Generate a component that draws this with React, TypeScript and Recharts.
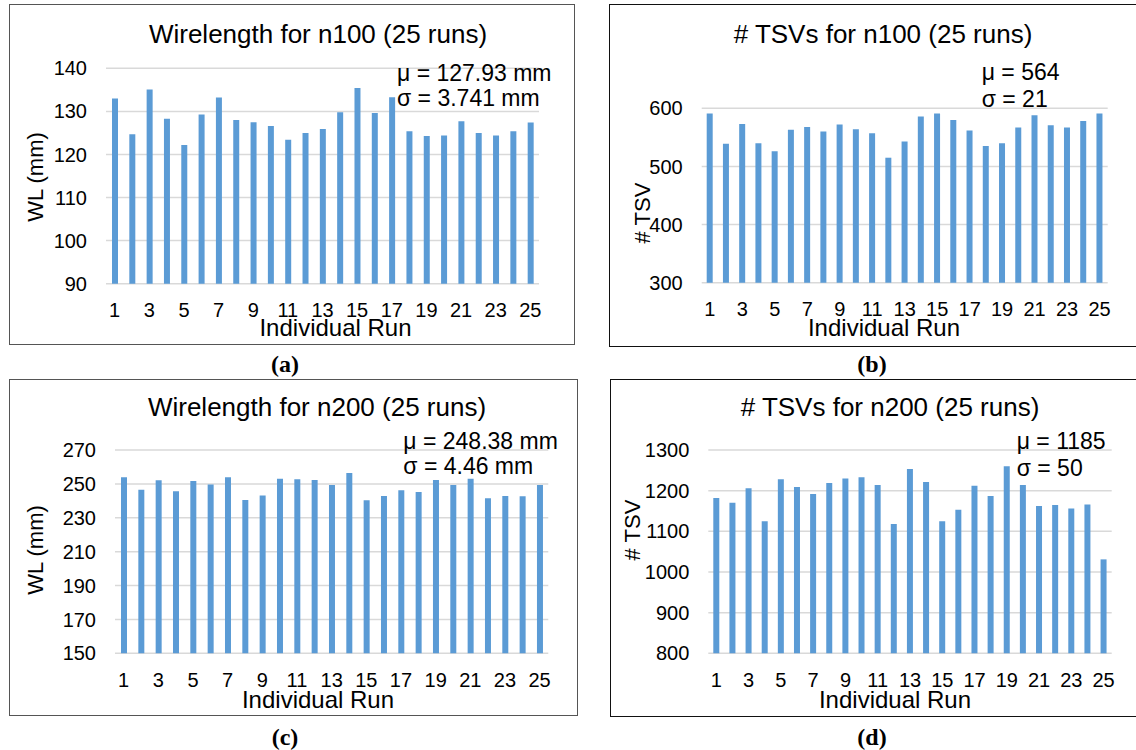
import React from "react";
import { BarChart, Bar, XAxis, YAxis, CartesianGrid } from "recharts";

const runs = ["1","2","3","4","5","6","7","8","9","10","11","12","13","14","15","16","17","18","19","20","21","22","23","24","25"];

const wlN100 = [133, 124.7, 135.1, 128.3, 122.2, 129.3, 133.2, 128.0, 127.5, 126.6, 123.4, 125.0, 125.9, 129.8, 135.4, 129.6, 133.3, 125.4, 124.3, 124.4, 127.7, 125.0, 124.4, 125.4, 127.4];
const tsvN100 = [591, 539, 573, 540, 526, 563, 568, 560, 572, 564, 557, 515, 543, 586, 591, 580, 562, 535, 540, 567, 588, 571, 567, 578, 591];
const wlN200 = [253.9, 246.6, 252.1, 245.6, 251.7, 249.7, 253.9, 240.5, 243.2, 253.1, 252.7, 252.3, 249.3, 256.4, 240.3, 242.9, 246.2, 245.2, 252.3, 249.3, 253.1, 241.5, 242.9, 242.7, 249.3];
const tsvN200 = [1182, 1170, 1206, 1125, 1228, 1209, 1192, 1219, 1230, 1233, 1214, 1118, 1253, 1221, 1125, 1153, 1212, 1187, 1260, 1214, 1162, 1165, 1156, 1166, 1031];

const ticksWlN100 = [90, 100, 110, 120, 130, 140];
const ticksTsvN100 = [300, 400, 500, 600];
const ticksWlN200 = [150, 170, 190, 210, 230, 250, 270];
const ticksTsvN200 = [800, 900, 1000, 1100, 1200, 1300];

const titles = ["Wirelength for n100 (25 runs)", "# TSVs for n100 (25 runs)", "Wirelength for n200 (25 runs)", "# TSVs for n200 (25 runs)"];
const yLabels = ["WL (mm)", "# TSV", "WL (mm)", "# TSV"];
const xLabel = "Individual Run";
const statsLines = [
  ["μ = 127.93 mm", "σ = 3.741 mm"],
  ["μ = 564", "σ = 21"],
  ["μ = 248.38 mm", "σ = 4.46 mm"],
  ["μ = 1185", "σ = 50"],
];
const captions = ["(a)", "(b)", "(c)", "(d)"];

const FONT = "'Liberation Sans', Arial, sans-serif";
const BAR = "#5B9BD5";
const GRID = "#D9D9D9";

type Box = { x: number; y: number; w: number; h: number };
type Plot = { l: number; t: number; r: number; b: number };

type PanelProps = {
  box: Box;
  plot: Plot;
  border: string;
  values: number[];
  ticks: number[];
  title: string;
  titlePos: [number, number];
  yLabel: string;
  yLabelPos: [number, number];
  xLabelPos: [number, number];
  stats: string[];
  statsPos: [number, number, number];
  caption: string;
  captionPos: [number, number];
};

const centered = (cx: number, cy: number, size: number, extra: React.CSSProperties = {}): React.CSSProperties => ({
  position: "absolute",
  left: cx,
  top: cy,
  transform: "translate(-50%, -50%)",
  fontSize: size,
  lineHeight: 1,
  whiteSpace: "nowrap",
  color: "#000",
  fontFamily: FONT,
  ...extra,
});

function Panel(p: PanelProps) {
  const data = runs.map((r, i) => ({ run: r, v: p.values[i] }));
  const yW = 60;
  const xH = 40;
  const margin = {
    top: p.plot.t - p.box.y,
    left: p.plot.l - p.box.x - yW,
    right: p.box.x + p.box.w - p.plot.r,
    bottom: p.box.y + p.box.h - p.plot.b - xH,
  };
  const dom: [number, number] = [p.ticks[0], p.ticks[p.ticks.length - 1]];
  return (
    <>
      <div
        style={{
          position: "absolute",
          left: p.box.x,
          top: p.box.y,
          width: p.box.w,
          height: p.box.h,
          boxSizing: "border-box",
          border: p.border,
          background: "#fff",
        }}
      />
      <div style={{ position: "absolute", left: p.box.x, top: p.box.y }}>
        <BarChart width={p.box.w} height={p.box.h} data={data} margin={margin}>
          <CartesianGrid vertical={false} stroke={GRID} strokeWidth={1.5} />
          <XAxis
            dataKey="run"
            interval={1}
            tickLine={false}
            axisLine={false}
            tickSize={0}
            tickMargin={19}
            height={xH}
            tick={{ fill: "#000", fontSize: 20, fontFamily: FONT }}
          />
          <YAxis
            type="number"
            domain={dom}
            ticks={p.ticks}
            interval={0}
            width={yW}
            tickLine={false}
            axisLine={false}
            tickSize={0}
            tickMargin={19}
            tick={{ fill: "#000", fontSize: 20, fontFamily: FONT }}
          />
          <Bar dataKey="v" fill={BAR} barSize={6} isAnimationActive={false} />
        </BarChart>
      </div>
      <div style={centered(p.titlePos[0], p.titlePos[1], 26)}>{p.title}</div>
      <div style={centered(p.xLabelPos[0], p.xLabelPos[1], 24)}>{xLabel}</div>
      <div style={centered(p.yLabelPos[0], p.yLabelPos[1], 22, { transform: "translate(-50%, -50%) rotate(-90deg)" })}>{p.yLabel}</div>
      <div style={{ ...centered(p.statsPos[0], p.statsPos[1], 23), transform: "translateY(-50%)" }}>{p.stats[0]}</div>
      <div style={{ ...centered(p.statsPos[0], p.statsPos[2], 23), transform: "translateY(-50%)" }}>{p.stats[1]}</div>
      <div style={centered(p.captionPos[0], p.captionPos[1], 24, { fontFamily: "'Liberation Serif', 'Times New Roman', serif", fontWeight: "bold" })}>{p.caption}</div>
    </>
  );
}

export default function App() {
  return (
    <div style={{ position: "absolute", left: 0, top: 0, width: 1136, height: 750, overflow: "hidden", background: "#fff", fontFamily: FONT }}>
      <Panel
        box={{ x: 9, y: 4, w: 566, h: 341 }}
        plot={{ l: 106, t: 68.3, r: 539, b: 283.7 }}
        border="1px solid #555"
        values={wlN100}
        ticks={ticksWlN100}
        title={titles[0]}
        titlePos={[318, 34]}
        yLabel={yLabels[0]}
        yLabelPos={[36, 177]}
        xLabelPos={[335.5, 328]}
        stats={statsLines[0]}
        statsPos={[397, 73.3, 98.3]}
        caption={captions[0]}
        captionPos={[285, 364]}
      />
      <Panel
        box={{ x: 609, y: 4, w: 530, h: 343 }}
        plot={{ l: 701.7, t: 108.3, r: 1107.7, b: 282.7 }}
        border="1px solid #111"
        values={tsvN100}
        ticks={ticksTsvN100}
        title={titles[1]}
        titlePos={[883, 34]}
        yLabel={yLabels[1]}
        yLabelPos={[643, 213]}
        xLabelPos={[884, 328]}
        stats={statsLines[1]}
        statsPos={[981.7, 71.7, 99.3]}
        caption={captions[1]}
        captionPos={[872, 364]}
      />
      <Panel
        box={{ x: 9, y: 379, w: 569, h: 337 }}
        plot={{ l: 115, t: 450, r: 548.3, b: 653.3 }}
        border="1px solid #555"
        values={wlN200}
        ticks={ticksWlN200}
        title={titles[2]}
        titlePos={[317, 407]}
        yLabel={yLabels[2]}
        yLabelPos={[36, 550]}
        xLabelPos={[318, 700]}
        stats={statsLines[2]}
        statsPos={[403.3, 440.7, 466]}
        caption={captions[2]}
        captionPos={[285, 737]}
      />
      <Panel
        box={{ x: 610, y: 379, w: 529, h: 338 }}
        plot={{ l: 708.3, t: 450, r: 1111.7, b: 653.3 }}
        border="1px solid #111"
        values={tsvN200}
        ticks={ticksTsvN200}
        title={titles[3]}
        titlePos={[890, 407]}
        yLabel={yLabels[3]}
        yLabelPos={[633, 530]}
        xLabelPos={[895, 700]}
        stats={statsLines[3]}
        statsPos={[1016.7, 440.7, 467.7]}
        caption={captions[3]}
        captionPos={[872, 737]}
      />
    </div>
  );
}
